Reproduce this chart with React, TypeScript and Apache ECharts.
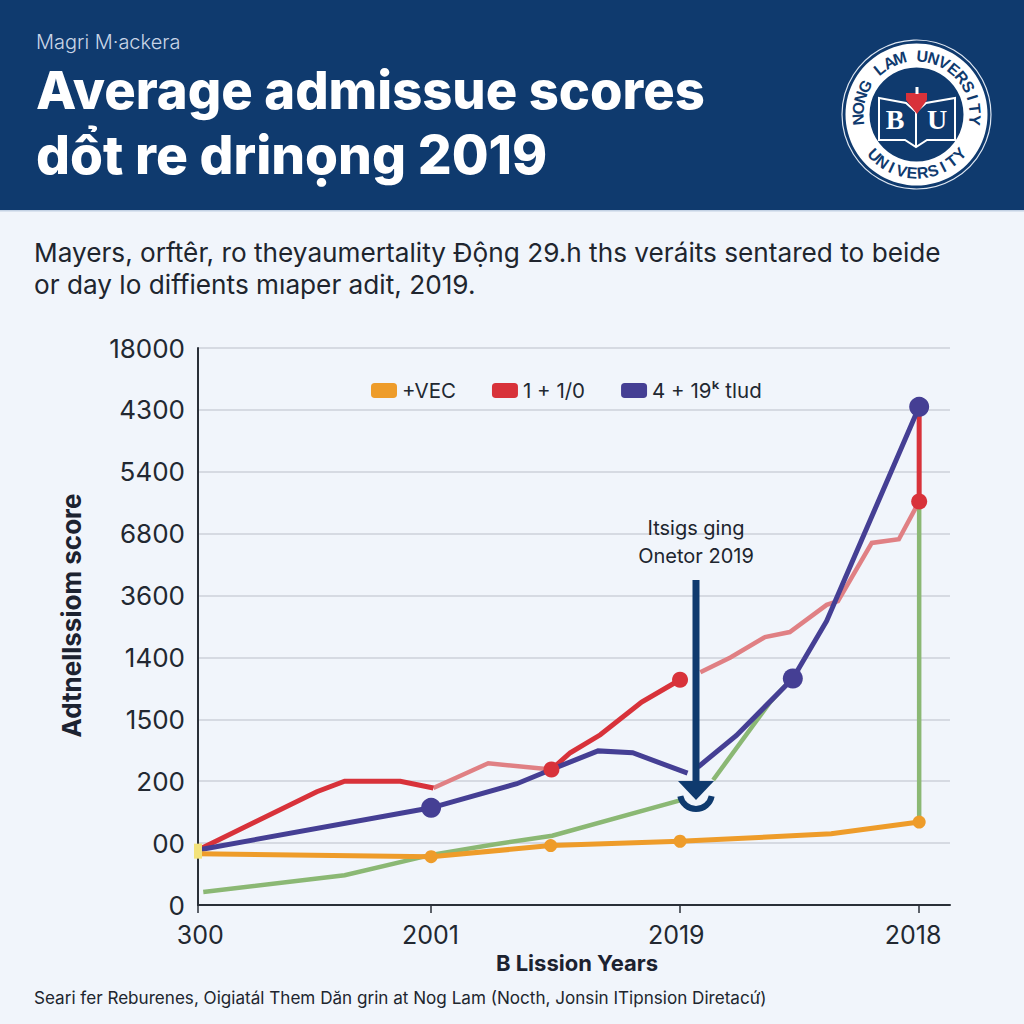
import React, { useEffect, useRef } from "react";
import * as echarts from "echarts";

const FONT = "Inter, Roboto, sans-serif";
const NAVY = "#0f3a6e";
const BG = "#f1f5fb";

const kicker = "Magri M·ackera";
const titleLines = ["Average admissue scores", "dổt re drinọng 2019"];
const subtitleLines = [
  "Mayers, orftêr, ro theyaumertality Ðộng 29.h ths veráits sentared to beide",
  "or day lo diffients mıaper adit, 2019.",
];
const footnote = "Seari fer Reburenes, Oigiatál Them Dăn grin at Nog Lam (Nocth, Jonsin ITipnsion Diretacứ)";
const annotationLines = ["Itsigs ging", "Onetor 2019"];

const yTickLabels = ["0", "00", "200", "1500", "1400", "3600", "6800", "5400", "4300", "18000"];
const xTickValues = [0, 31, 64.1, 95.9];
const xLabelValues = [0.3, 30.9, 63.6, 95.1];
const xTickLabels = ["300", "2001", "2019", "2018"];

const legendOrange = "+VEC";
const legendRed = "1 + 1/0";
const legendPurple = "4 + 19ᵏ tlud";

const orangeLine = [[0, 0.83], [31, 0.78], [46.9, 0.96], [64.1, 1.03], [84.2, 1.15], [95.9, 1.34]];
const greenLine = [[0.7, 0.21], [19.5, 0.48], [31, 0.81], [38.9, 0.97], [47.1, 1.12], [64.1, 1.69], null, [68.5, 2.02], [76.1, 3.28], [79, 3.66], null, [95.9, 1.34], [95.9, 6.41]];
const redLine = [[0, 0.89], [15.8, 1.83], [19.5, 2.0], [26.9, 2.0], [31.3, 1.89], null, [47, 2.19], [49.5, 2.46], [53.5, 2.75], [59, 3.28], [64.1, 3.64], null, [95.9, 6.46], [95.9, 8.0]];
const pinkLine = [[31.3, 1.89], [38.6, 2.29], [47, 2.19], null, [66.8, 3.76], [70.8, 4.0], [75.4, 4.33], [78.7, 4.41], [83.6, 4.85], [85.1, 4.91], [89.6, 5.85], [93.2, 5.91], [95.9, 6.52]];
const purpleLine = [[0, 0.89], [31, 1.57], [42.4, 1.96], [47, 2.19], [53.2, 2.49], [57.8, 2.46], [65.1, 2.13], null, [66.5, 2.23], [71.6, 2.74], [79.1, 3.66], [83.6, 4.59], [95.9, 8.05]];

const orangeDots = [[31, 0.78], [46.9, 0.96], [64.1, 1.03], [95.9, 1.34]];
const redDots = [[47, 2.19], [64.1, 3.64], [95.9, 6.52]];
const purpleDots = [[31, 1.57], [79.1, 3.66], [95.9, 8.05]];
const originDot = [[0, 0.87]];

const COLORS = { orange: "#ee9c2a", green: "#8bb874", red: "#d8323a", pink: "#e08084", purple: "#453f94", yellow: "#f3e27a" };

const toData = (pts: (number[] | null)[]) => pts.map((p) => (p ? p : ["-", "-"]));

const lineSeries = (name: string, pts: (number[] | null)[], color: string, width: number, z: number) => ({
  type: "line",
  name,
  data: toData(pts),
  showSymbol: false,
  symbol: "none",
  connectNulls: false,
  z,
  lineStyle: { color, width, cap: "butt", join: "miter" },
  itemStyle: { color },
});

const dotSeries = (name: string, pts: number[][], color: string, size: number, z: number, symbol = "circle", symbolSize?: number[]) => ({
  type: "scatter",
  name,
  data: pts,
  symbol,
  symbolSize: symbolSize ?? size,
  z,
  itemStyle: { color, opacity: 1 },
});

function logoElements() {
  const cx = 916.5;
  const cy = 114.5;
  const els: any[] = [
    { type: "circle", z: 10, shape: { cx, cy, r: 74.5 }, style: { fill: "transparent", stroke: "#dfe7f2", lineWidth: 1.2 } },
    { type: "circle", z: 10, shape: { cx, cy, r: 71 }, style: { fill: "#ffffff" } },
    { type: "circle", z: 11, shape: { cx, cy, r: 47 }, style: { fill: NAVY } },
  ];
  const arcText = (text: string, startDeg: number, stepDeg: number, r: number, bottom: boolean) => {
    [...text].forEach((ch, i) => {
      const deg = startDeg + i * stepDeg;
      const rad = (deg * Math.PI) / 180;
      const x = cx + r * Math.sin(rad);
      const y = cy - r * Math.cos(rad);
      els.push({
        type: "text", z: 12, x, y, rotation: bottom ? -((deg + 180) * Math.PI) / 180 : -rad,
        style: { text: ch, fill: NAVY, font: "bold 16px 'Liberation Sans', sans-serif", textAlign: "center", textVerticalAlign: "middle" },
      });
    });
  };
  arcText("NONG LAM UNVERSITY", -95, 11.2, 58.5, false);
  arcText("UNIVERSITY", 226, -10.4, 58.5, true);
  els.push(
    { type: "polygon", z: 12, shape: { points: [[879, 98], [906, 103], [916, 112], [926, 103], [955, 98], [955, 140], [927, 140], [916, 147], [905, 140], [879, 140]] }, style: { fill: NAVY, stroke: "#ffffff", lineWidth: 2 } },
    { type: "line", z: 13, shape: { x1: 916, y1: 112, x2: 916, y2: 147 }, style: { stroke: "#ffffff", lineWidth: 2 } },
    { type: "polygon", z: 14, shape: { points: [[906, 93], [927, 93], [927, 100], [917, 114], [906, 100]] }, style: { fill: "#d8323a" } },
    { type: "rect", z: 14, shape: { x: 915.5, y: 87, width: 3, height: 7 }, style: { fill: "#ffffff" } },
    { type: "text", z: 14, x: 895, y: 119, style: { text: "B", fill: "#ffffff", font: "bold 28px 'Liberation Serif', serif", textAlign: "center", textVerticalAlign: "middle" } },
    { type: "text", z: 14, x: 937, y: 119, style: { text: "U", fill: "#ffffff", font: "bold 28px 'Liberation Serif', serif", textAlign: "center", textVerticalAlign: "middle" } },
  );
  return els;
}

function textEl(text: string, x: number, y: number, font: string, fill: string, align = "left", z = 20) {
  return { type: "text", z, x, y, style: { text, font, fill, textAlign: align, textVerticalAlign: "middle" } };
}

export default function App() {
  const ref = useRef<HTMLDivElement>(null);
  useEffect(() => {
    if (!ref.current) return;
    const chart = echarts.init(ref.current, undefined, { renderer: "svg" });
    chart.setOption({
      animation: false,
      backgroundColor: BG,
      textStyle: { fontFamily: FONT },
      grid: { left: 198, top: 348, width: 752, height: 557 },
      legend: {
        left: 366,
        top: 375,
        itemWidth: 26,
        itemHeight: 15,
        itemGap: 36,
        icon: "roundRect",
        data: [legendOrange, legendRed, legendPurple],
        textStyle: { fontSize: 20.5, color: "#222831", fontFamily: FONT },
      },
      xAxis: {
        type: "value",
        min: 0,
        max: 100,
        name: "B Lission Years",
        nameLocation: "middle",
        nameGap: 46,
        nameTextStyle: { fontSize: 22, fontWeight: "bold", color: "#1c2230", fontFamily: FONT, padding: [0, 0, 0, 6] },
        axisLine: { show: true, onZero: false, lineStyle: { color: "#2a2f38", width: 2 } },
        axisTick: { show: true, length: 8, customValues: xTickValues, lineStyle: { color: "#2a2f38", width: 1.5 } },
        axisLabel: {
          show: true,
          customValues: xLabelValues,
          margin: 17,
          color: "#222831",
          formatter: (v: number) => {
            const i = xLabelValues.indexOf(v);
            return `{${i === 2 ? "up" : "n"}|${xTickLabels[i] ?? ""}}`;
          },
          rich: {
            n: { fontSize: 25, color: "#222831", fontFamily: FONT },
            up: { fontSize: 25, color: "#222831", fontFamily: FONT, padding: [0, 0, 8, 0] },
          },
        },
        splitLine: { show: false },
      },
      yAxis: {
        type: "value",
        min: 0,
        max: 9,
        interval: 1,
        name: "Adtnellssiom score",
        nameLocation: "middle",
        nameGap: 114,
        nameTextStyle: { fontSize: 26, fontWeight: "bold", color: "#1c2230", fontFamily: FONT, padding: [0, 0, 0, 22] },
        axisLine: { show: true, lineStyle: { color: "#2a2f38", width: 2 } },
        axisTick: { show: false },
        axisLabel: { fontSize: 26, margin: 13, color: "#222831", formatter: (v: number) => yTickLabels[v] ?? "" },
        splitLine: { show: true, lineStyle: { color: "#d6dae2", width: 2 } },
      },
      series: [
        lineSeries(legendOrange, orangeLine, COLORS.orange, 5, 6),
        lineSeries("green", greenLine, COLORS.green, 4.5, 3),
        lineSeries("pink", pinkLine, COLORS.pink, 4.5, 2),
        lineSeries(legendRed, redLine, COLORS.red, 5, 4),
        lineSeries(legendPurple, purpleLine, COLORS.purple, 5, 5),
        dotSeries("orange dots", orangeDots, COLORS.orange, 13, 7),
        dotSeries("red dots", redDots, COLORS.red, 16, 8),
        dotSeries("purple dots", purpleDots, COLORS.purple, 20, 9),
        dotSeries("origin", originDot, COLORS.yellow, 0, 10, "rect", [8, 15]),
      ],
      graphic: {
        elements: [
          { type: "rect", z: 0, silent: true, shape: { x: 0, y: 0, width: 1024, height: 210 }, style: { fill: NAVY } },
          { type: "rect", z: 0, silent: true, shape: { x: 0, y: 210, width: 1024, height: 1.5 }, style: { fill: "#c4d2e4" } },
          textEl(kicker, 36, 42, `300 20px ${FONT}`, "#c9d5e6"),
          textEl(titleLines[0], 36, 90, `800 52.5px ${FONT}`, "#ffffff"),
          textEl(titleLines[1], 36, 154, `800 53.3px ${FONT}`, "#ffffff"),
          textEl(subtitleLines[0], 34, 252, `400 26.2px ${FONT}`, "#20252e"),
          textEl(subtitleLines[1], 34, 284, `400 26.2px ${FONT}`, "#20252e"),
          textEl(annotationLines[0], 696, 528, `400 20px ${FONT}`, "#20252e", "center"),
          textEl(annotationLines[1], 696, 556, `400 20px ${FONT}`, "#20252e", "center"),
          textEl(footnote, 34, 997, `400 17.1px ${FONT}`, "#20252e"),
          { type: "rect", z: 15, shape: { x: 692.5, y: 580, width: 7, height: 205 }, style: { fill: NAVY } },
          { type: "polygon", z: 15, shape: { points: [[678, 781], [714, 781], [696, 800]] }, style: { fill: NAVY } },
          { type: "arc", z: 15, shape: { cx: 696, cy: 793, r: 16, startAngle: 0.2, endAngle: Math.PI - 0.2, clockwise: true }, style: { stroke: NAVY, fill: "none", lineWidth: 6 } },
          ...logoElements(),
        ],
      },
    });
    return () => chart.dispose();
  }, []);
  return <div ref={ref} style={{ position: "absolute", left: 0, top: 0, width: 1024, height: 1024 }} />;
}
